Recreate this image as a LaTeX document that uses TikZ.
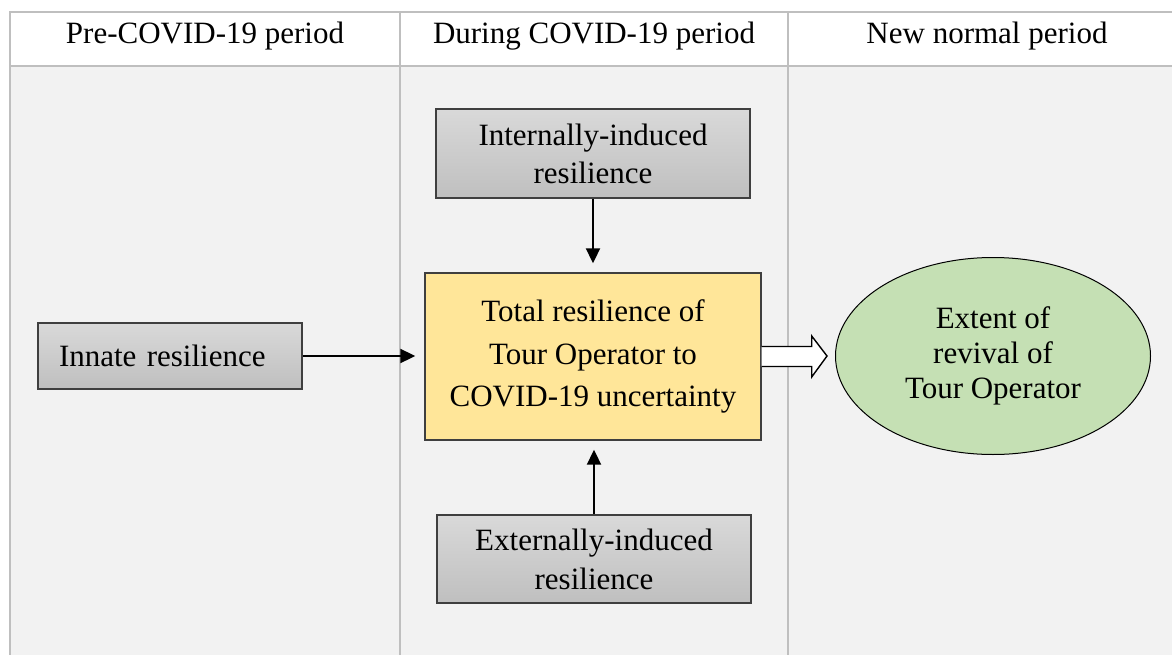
\documentclass[tikz,border=0pt]{standalone}
\usepackage{fontspec}
\setmainfont{Liberation Serif}
\usetikzlibrary{arrows.meta,calc,shapes.geometric}
\definecolor{gridc}{HTML}{BFBFBF}
\definecolor{bodybg}{HTML}{F2F2F2}
\definecolor{boxline}{HTML}{3F3F3F}
\definecolor{graytop}{HTML}{D9D9D9}
\definecolor{graybot}{HTML}{BFBFBF}
\definecolor{yellowfill}{HTML}{FFE699}
\definecolor{greenfill}{HTML}{C5E0B4}
\tikzset{
  txt/.style={font=\fontsize{31}{38}\selectfont},
  graybox/.style={txt, draw=boxline, line width=1.4pt, top color=graytop, bottom color=graybot,
    inner sep=0pt, align=center},
  conn/.style={line width=2pt, -{Triangle[length=15pt,width=14pt]}, shorten >=9pt},
  gridline/.style={draw=gridc, line width=2pt},
}
\begin{document}
\begin{tikzpicture}[x=1pt,y=-1pt]
\useasboundingbox (0,0) rectangle (1172,655);
\fill[white] (0,0) rectangle (1172,655);
\fill[bodybg] (10,66) rectangle (1172,655);
\draw[gridline] (1172,12) -- (10,12) -- (10,655);
\draw[gridline] (10,66) -- (1172,66);
\draw[gridline] (400,12) -- (400,655);
\draw[gridline] (788,12) -- (788,655);

\node[txt] (h1) at (205,36) {Pre-COVID-19 period};
\node[txt] (h2) at (594,36) {During COVID-19 period};
\node[txt] (h3) at (987,36) {New normal period};

\node[graybox, minimum width=264pt, minimum height=66pt, text width=222pt, inner xsep=21pt, align=left]
  (innate) at (170,356) {Innate resilience};
\node[graybox, minimum width=314pt, minimum height=89pt, font=\fontsize{31}{38}\selectfont]
  (internal) at (593,153.5) {\raisebox{-4pt}{Internally-induced}\\\raisebox{-4pt}{resilience}};
\node[txt, draw=boxline, line width=1.4pt, fill=yellowfill, minimum width=336pt, minimum height=167pt,
  inner sep=0pt, align=center, font=\fontsize{31}{42.5}\selectfont]
  (total) at (593,356.5) {\raisebox{-3pt}{Total resilience of}\\\raisebox{-3pt}{Tour Operator to}\\\raisebox{-3pt}{COVID-19 uncertainty}};
\node[graybox, minimum width=314pt, minimum height=88pt, font=\fontsize{31}{39}\selectfont]
  (external) at (594,559) {Externally-induced\\resilience};
\node[ellipse, draw=black, line width=1pt, fill=greenfill, minimum width=315pt, minimum height=197pt,
  inner sep=0pt, align=center, font=\fontsize{31}{35}\selectfont]
  (revival) at (993,356) {Extent of\\revival of\\Tour Operator};

\draw[conn] (innate.east) -- (innate.east -| total.west);
\draw[conn] (internal.south) -- (total.north);
\draw[conn] (external.north) -- ($(total.south)+(1,0)$);

\draw[line width=1.4pt, fill=white, line join=miter]
  ($(total.east)+(0,-10)$) -- ($(total.east)+(50,-10)$) -- ($(total.east)+(50,-20.5)$)
  -- ($(revival.west)+(-8,0)$)
  -- ($(total.east)+(50,20.5)$) -- ($(total.east)+(50,10)$) -- ($(total.east)+(0,10)$);
\end{tikzpicture}
\end{document}
